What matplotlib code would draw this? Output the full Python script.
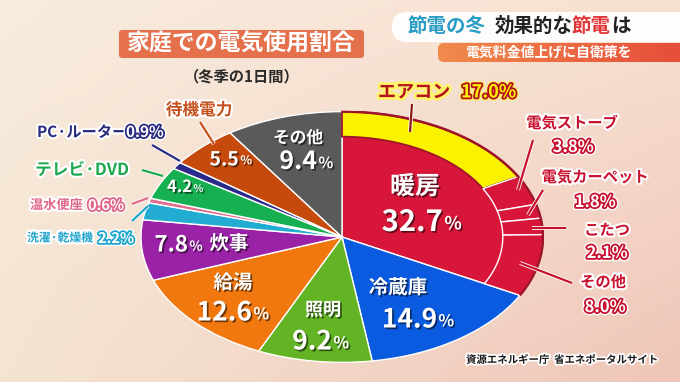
import numpy as np
import matplotlib.pyplot as plt
import matplotlib.patheffects as pe
from matplotlib.patches import FancyBboxPatch, Arc

plt.rcParams['font.family'] = ['Noto Sans CJK JP', 'DejaVu Sans']

# --- data ---
categories = ['暖房', '冷蔵庫', '照明', '給湯', '炊事', '洗濯·乾燥機',
              '温水便座', 'テレビ·DVD', 'PC·ルーター', '待機電力', 'その他']
shares = [32.7, 14.9, 9.2, 12.6, 7.8, 2.2, 0.6, 4.2, 0.9, 5.5, 9.4]
heat_parts = ['エアコン', '電気ストーブ', '電気カーペット', 'こたつ', 'その他']
heat_shares = [17.0, 3.8, 1.8, 2.1, 8.0]

colors = ['#d8163a', '#0a5be0', '#62b424', '#f0780f', '#9a22a6', '#22acd2',
          '#e07090', '#16b052', '#2a2a8a', '#c64a0c', '#5a5a5a']
RED = '#d8163a'
DARKRED = '#9e1428'
YELLOW = '#fbf200'

fig = plt.figure(figsize=(6.8, 3.82), dpi=100)

# background
bg = fig.add_axes([0, 0, 1, 1])
bg.set_xlim(0, 680)
bg.set_ylim(382, 0)
bg.axis('off')
tl, tr = np.array([248, 236, 221]), np.array([247, 224, 210])
bl, br = np.array([245, 228, 210]), np.array([239, 198, 184])
u = np.linspace(0, 1, 200)[None, :, None]
v = np.linspace(0, 1, 120)[:, None, None]
img = (tl * (1 - u) * (1 - v) + tr * u * (1 - v) + bl * (1 - u) * v + br * u * v) / 255
bg.imshow(img, extent=(0, 680, 382, 0), aspect='auto', zorder=0)

# --- pie (stretched to an ellipse) ---
cx, cy, a, b = 342, 237, 202, 126
pa = fig.add_axes([(cx - a) / 680, (382 - cy - b) / 382, 2 * a / 680, 2 * b / 382])
pa.pie(shares, colors=colors, startangle=90, counterclock=False, radius=1,
       wedgeprops=dict(edgecolor='white', linewidth=1))
ring_cols = [YELLOW, RED, RED, RED, RED, 'none']
wedges, _ = pa.pie(heat_shares + [100 - sum(heat_shares)], colors=ring_cols,
                   startangle=90, counterclock=False, radius=1,
                   wedgeprops=dict(width=0.2, edgecolor='white', linewidth=1))
wedges[-1].set_visible(False)
wedges[0].set_edgecolor(DARKRED)
wedges[0].set_linewidth(1.3)
pa.add_patch(Arc((0, 0), 2, 2, theta1=90 - 3.6 * shares[0], theta2=90,
                 color=DARKRED, lw=1.8))
pa.set_aspect('auto')
pa.set_xlim(-1.005, 1.005)
pa.set_ylim(-1.005, 1.005)
pa.axis('off')

# --- overlay for text ---
ov = fig.add_axes([0, 0, 1, 1])
ov.set_xlim(0, 680)
ov.set_ylim(382, 0)
ov.axis('off')
ov.patch.set_alpha(0)

shadow = [pe.withSimplePatchShadow(offset=(1.2, -1.2), shadow_rgbFace='black', alpha=0.55)]


def inner(x, y, s, size):
    ov.text(x, y, s, color='white', fontsize=size, fontweight='bold',
            ha='center', va='center', path_effects=shadow)


def inner_pct(xr, y, val, size):
    t = ov.text(xr, y, f'{val:.1f}', color='white', fontsize=size, fontweight='bold',
                ha='right', va='center', path_effects=shadow)
    ov.annotate('%', xy=(1, 0.12), xycoords=t, xytext=(1, 0), textcoords='offset points',
                color='white', fontsize=size * 0.62, fontweight='bold',
                ha='left', va='bottom', path_effects=shadow)
    return t


def outer_name(x, y, s, col, size, ha='center'):
    ov.text(x, y, s, color=col, fontsize=size, fontweight='bold', ha=ha, va='center',
            path_effects=[pe.withStroke(linewidth=3, foreground='white')])


def outer_pct(x, y, s, col, size, ha='center'):
    ov.text(x, y, s, color='white', fontsize=size, fontweight='bold', ha=ha, va='center',
            path_effects=[pe.Stroke(linewidth=4.5, foreground='white'),
                          pe.Stroke(linewidth=2.6, foreground=col), pe.Normal()])


def leader(x1, y1, x2, y2, col):
    ov.plot([x1, x2], [y1, y2], color=col, lw=1.6, solid_capstyle='butt',
            path_effects=[pe.withStroke(linewidth=2.8, foreground='white')])


# inside labels
inner(415, 187, categories[0], 18)
inner_pct(443, 222, shares[0], 21)
inner(398, 288, categories[1], 14)
inner_pct(437, 320, shares[1], 19)
inner(323, 310, categories[2], 13)
inner_pct(332, 342, shares[2], 19)
inner(233, 283, categories[3], 14)
inner_pct(252, 313, shares[3], 19)
inner_pct(188, 245, shares[4], 16)
inner(229, 244, categories[4], 14)
inner(298, 138, categories[10], 12)
inner_pct(317, 162, shares[10], 18)
inner_pct(239, 160, shares[9], 14)
inner_pct(192, 187, shares[7], 12)

# outside labels, left
outer_name(199, 110, categories[9], '#c4501c', 12)
leader(200, 122, 214, 144, '#c4501c')
outer_name(37, 132, categories[8], '#2a2a80', 11, ha='left')
outer_pct(126, 132, f'{shares[8]:.1f}%', '#2a2a80', 11, ha='left')
leader(152, 145, 180, 161, '#2a2a80')
outer_name(35, 170, categories[7], '#1ea84e', 12, ha='left')
leader(142, 170, 163, 176, '#1ea84e')
outer_name(30, 205, categories[6], '#e0678a', 9.5, ha='left')
outer_pct(88, 205, f'{shares[6]:.1f}%', '#e0678a', 10.5, ha='left')
leader(132, 204, 148, 198, '#e0678a')
outer_name(27, 238, categories[5], '#22a6cc', 8.5, ha='left')
outer_pct(98, 238, f'{shares[5]:.1f}%', '#22a6cc', 10.5, ha='left')
leader(132, 221, 148, 206, '#22a6cc')

# outside labels, right (heating breakdown)
CR = '#c8102e'
ov.text(378, 92, heat_parts[0], color='#b4101e', fontsize=13, fontweight='bold',
        ha='left', va='center', path_effects=[pe.withStroke(linewidth=4, foreground='#fff36a')])
ov.text(461, 92, f'{heat_shares[0]:.1f}%', color=YELLOW, fontsize=13, fontweight='bold',
        ha='left', va='center',
        path_effects=[pe.Stroke(linewidth=4.5, foreground='#fff36a'),
                      pe.Stroke(linewidth=2.6, foreground='#b4101e'), pe.Normal()])
leader(412, 104, 410, 132, '#8a1a10')
outer_name(572, 123, heat_parts[1], CR, 11)
outer_pct(573, 147, f'{heat_shares[1]:.1f}%', CR, 12)
leader(533, 140, 518, 190, CR)
outer_name(595, 177, heat_parts[2], CR, 11)
outer_pct(595, 202, f'{heat_shares[2]:.1f}%', CR, 12)
leader(543, 190, 528, 215, CR)
outer_name(607, 230, heat_parts[3], CR, 11)
outer_pct(607, 253, f'{heat_shares[3]:.1f}%', CR, 12)
leader(532, 228, 566, 228, CR)
outer_name(603, 282, heat_parts[4], CR, 11)
outer_pct(605, 307, f'{heat_shares[4]:.1f}%', CR, 12)
leader(520, 263, 572, 283, CR)

# --- title block ---
ov.add_patch(FancyBboxPatch((119, 30), 245, 28, boxstyle='round,pad=0,rounding_size=3',
                            facecolor='#e4714c', edgecolor='none'))
ov.text(241, 44, '家庭での電気使用割合', color='white', fontsize=16.5, fontweight='bold',
        ha='center', va='center')
ov.text(242, 76, '（冬季の1日間）', color='#2a2a2a', fontsize=11, fontweight='bold',
        ha='center', va='center')

# --- top right banner ---
ov.add_patch(FancyBboxPatch((392, 12), 300, 30, boxstyle='round,pad=0,rounding_size=15',
                            facecolor='white', edgecolor='none', alpha=0.95))
grad = np.linspace(0, 1, 100)[None, :, None]
band = (np.array([241, 140, 76]) * (1 - grad) + np.array([230, 78, 58]) * grad) / 255
band_im = ov.imshow(band, extent=(432, 680, 62, 43), aspect='auto', zorder=2)
clip = FancyBboxPatch((438, 43), 260, 19, boxstyle='round,pad=0,rounding_size=6',
                      facecolor='none', edgecolor='none', transform=ov.transData)
ov.add_patch(clip)
band_im.set_clip_path(clip)
ov.text(548, 52.5, '電気料金値上げに自衛策を', color='white', fontsize=10, fontweight='bold',
        ha='center', va='center', zorder=3)
ov.text(408, 26, '節電の冬', color='#2b9cc4', fontsize=14, fontweight='bold', ha='left', va='center')
ov.text(495, 26, '効果的な', color='#222222', fontsize=14, fontweight='bold', ha='left', va='center')
ov.text(572, 26, '節電', color='#e2383a', fontsize=14, fontweight='bold', ha='left', va='center')
ov.text(611, 26, 'は', color='#222222', fontsize=14, fontweight='bold', ha='left', va='center')

# --- source ---
ov.text(466, 360, '資源エネルギー庁  省エネポータルサイト', color='#1a1a1a', fontsize=7.5,
        fontweight='bold', ha='left', va='center',
        path_effects=[pe.withStroke(linewidth=2.5, foreground='white')])

ov.set_xlim(0, 680)
ov.set_ylim(382, 0)
fig.savefig('out.png', dpi=100)
